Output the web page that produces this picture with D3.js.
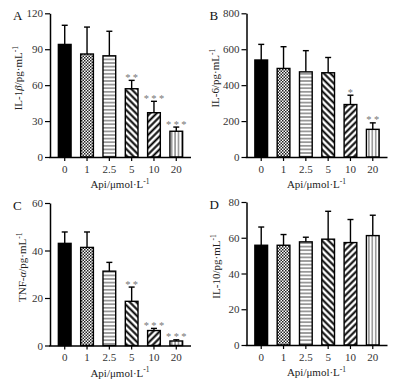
<!DOCTYPE html>
<html lang="zh">
<head>
  <meta charset="utf-8" />
  <style>
    body { margin: 0; background: #fff; }
    svg { display: block; font-family: "Liberation Serif", "Times New Roman", serif; }
  </style>
</head>
<body>
<div id="container"></div>
<script src="https://cdn.jsdelivr.net/npm/d3@7/dist/d3.min.js"></script>
<script>

const width = 396;
const height = 385;

// concentrations of Api (µmol/L)
const doses = ['0', '1', '2.5', '5', '10', '20'];

// IL-1β
const il1bMean = [94, 86, 84.5, 57, 37, 21.5];
const il1bSd = [16, 22.5, 20.5, 7, 9.5, 3.5];
const il1bSig = ['', '', '', '**', '***', '***'];

// IL-6
const il6Mean = [540, 493, 474, 469, 292, 154];
const il6Sd = [87, 121, 118, 85, 52, 36];
const il6Sig = ['', '', '', '', '*', '**'];

// TNF-α
const tnfMean = [43, 41.3, 31.3, 18.6, 6.3, 1.9];
const tnfSd = [4.8, 6.5, 3.7, 6, 0.9, 0.5];
const tnfSig = ['', '', '', '**', '***', '***'];

// IL-10
const il10Mean = [55.8, 55.8, 57.7, 59.2, 57.3, 61.2];
const il10Sd = [10.2, 6, 2.6, 15.6, 12.9, 11.4];
const il10Sig = ['', '', '', '', '', ''];

const yTicksA = [0, 30, 60, 90, 120];
const yTicksB = [0, 200, 400, 600, 800];
const yTicksC = [0, 20, 40, 60];
const yTicksD = [0, 20, 40, 60, 80];

const panels = [
  { letter: 'A', name: 'IL-1', greek: 'β', mean: il1bMean, sd: il1bSd, sig: il1bSig, ticks: yTicksA, x0: 50, top: 13.3, bottom: 157, titleX: 22 },
  { letter: 'B', name: 'IL-6', greek: '', mean: il6Mean, sd: il6Sd, sig: il6Sig, ticks: yTicksB, x0: 246.5, top: 13.3, bottom: 157, titleX: 219 },
  { letter: 'C', name: 'TNF-', greek: 'α', mean: tnfMean, sd: tnfSd, sig: tnfSig, ticks: yTicksC, x0: 50, top: 203, bottom: 345.5, titleX: 26 },
  { letter: 'D', name: 'IL-10', greek: '', mean: il10Mean, sd: il10Sd, sig: il10Sig, ticks: yTicksD, x0: 246.5, top: 202, bottom: 345, titleX: 220 }
];

const svg = d3.select('#container')
  .append('svg')
  .attr('width', width)
  .attr('height', height);

// fill patterns, one per dose
const defs = svg.append('defs');

const p1 = defs.append('pattern').attr('id', 'p1')
  .attr('patternUnits', 'userSpaceOnUse').attr('width', 3).attr('height', 3);
p1.append('rect').attr('width', 3).attr('height', 3).attr('fill', '#fff');
p1.append('rect').attr('width', 1.5).attr('height', 1.5).attr('fill', '#222');
p1.append('rect').attr('x', 1.5).attr('y', 1.5).attr('width', 1.5).attr('height', 1.5).attr('fill', '#222');

const p2 = defs.append('pattern').attr('id', 'p2')
  .attr('patternUnits', 'userSpaceOnUse').attr('width', 4).attr('height', 3.6);
p2.append('rect').attr('width', 4).attr('height', 3.6).attr('fill', '#fff');
p2.append('line').attr('x1', 0).attr('x2', 4).attr('y1', 1.8).attr('y2', 1.8)
  .attr('stroke', '#555').attr('stroke-width', 1.1);

function stripes(id, angle) {
  const p = defs.append('pattern').attr('id', id)
    .attr('patternUnits', 'userSpaceOnUse').attr('width', 4.6).attr('height', 4.6)
    .attr('patternTransform', `rotate(${angle})`);
  p.append('rect').attr('width', 4.6).attr('height', 4.6).attr('fill', '#fff');
  p.append('line').attr('x1', 2.3).attr('x2', 2.3).attr('y1', 0).attr('y2', 4.6)
    .attr('stroke', '#000').attr('stroke-width', 2);
}
stripes('p3', -45);
stripes('p4', 45);

const p5 = defs.append('pattern').attr('id', 'p5')
  .attr('patternUnits', 'userSpaceOnUse').attr('width', 3.4).attr('height', 4);
p5.append('rect').attr('width', 3.4).attr('height', 4).attr('fill', '#fff');
p5.append('line').attr('x1', 1.7).attr('x2', 1.7).attr('y1', 0).attr('y2', 4)
  .attr('stroke', '#555').attr('stroke-width', 1);

const fills = ['#000', 'url(#p1)', 'url(#p2)', 'url(#p3)', 'url(#p4)', 'url(#p5)'];

panels.forEach(p => {
  const g = svg.append('g');
  const data = doses.map((d, i) => ({ dose: d, mean: p.mean[i], sd: p.sd[i], sig: p.sig[i], i }));

  const x = d3.scaleBand()
    .domain(doses)
    .range([p.x0, p.x0 + 141])
    .paddingInner(0.43)
    .paddingOuter(0.375);

  const y = d3.scaleLinear()
    .domain([0, d3.max(p.ticks)])
    .range([p.bottom, p.top]);

  // bars
  g.selectAll('rect.bar')
    .data(data)
    .enter()
    .append('rect')
    .attr('class', 'bar')
    .attr('x', d => x(d.dose))
    .attr('y', d => y(d.mean))
    .attr('width', x.bandwidth())
    .attr('height', d => y(0) - y(d.mean))
    .attr('fill', d => fills[d.i])
    .attr('stroke', '#000')
    .attr('stroke-width', 1.4);

  // error bars (upper only)
  const cx = d => x(d.dose) + x.bandwidth() / 2;
  g.selectAll('line.err')
    .data(data)
    .enter()
    .append('line')
    .attr('x1', cx).attr('x2', cx)
    .attr('y1', d => y(d.mean)).attr('y2', d => y(d.mean + d.sd))
    .attr('stroke', '#000').attr('stroke-width', 1.4);
  g.selectAll('line.cap')
    .data(data)
    .enter()
    .append('line')
    .attr('x1', d => cx(d) - 3).attr('x2', d => cx(d) + 3)
    .attr('y1', d => y(d.mean + d.sd)).attr('y2', d => y(d.mean + d.sd))
    .attr('stroke', '#000').attr('stroke-width', 1.4);

  // significance stars
  g.selectAll('text.sig')
    .data(data.filter(d => d.sig))
    .enter()
    .append('text')
    .attr('x', d => cx(d) + 1.2)
    .attr('y', d => y(d.mean + d.sd) + 0.5)
    .attr('text-anchor', 'middle')
    .attr('font-size', 10.5)
    .attr('letter-spacing', 2.4)
    .attr('fill', '#777')
    .text(d => d.sig);

  // y axis
  const yAxis = g.append('g')
    .attr('transform', `translate(${p.x0},0)`)
    .call(d3.axisLeft(y).tickValues(p.ticks).tickSize(5).tickSizeOuter(0).tickPadding(2));
  yAxis.select('.domain').attr('stroke-width', 1.5);
  yAxis.selectAll('.tick line').attr('stroke-width', 1.2);
  yAxis.selectAll('.tick text')
    .attr('font-family', '"Liberation Serif", serif')
    .attr('font-size', 11)
    .attr('fill', '#333');

  // x axis
  const xAxis = g.append('g')
    .attr('transform', `translate(0,${p.bottom})`)
    .call(d3.axisBottom(x).tickSize(4).tickSizeOuter(0).tickPadding(4));
  xAxis.select('.domain').attr('stroke-width', 1.5)
    .attr('d', `M${p.x0 - 0.75},0.5H${p.x0 + 141}`);
  xAxis.selectAll('.tick line').attr('stroke-width', 1.2);
  xAxis.selectAll('.tick text')
    .attr('font-family', '"Liberation Serif", serif')
    .attr('font-size', 11)
    .attr('fill', '#333');

  // x axis title
  const xt = g.append('text')
    .attr('x', p.x0 + 70)
    .attr('y', p.bottom + 31)
    .attr('text-anchor', 'middle')
    .attr('font-size', 11)
    .attr('fill', '#222');
  xt.append('tspan').text('Api/μmol·L');
  xt.append('tspan').attr('font-size', 7.5).attr('dy', -4.5).text('-1');

  // y axis title
  const mid = (p.top + p.bottom) / 2 - 7;
  const yt = g.append('text')
    .attr('transform', `translate(${p.titleX},${mid}) rotate(-90)`)
    .attr('text-anchor', 'middle')
    .attr('font-size', 11)
    .attr('fill', '#222');
  yt.append('tspan').text(p.name);
  if (p.greek) yt.append('tspan').attr('font-style', 'italic').text(p.greek);
  yt.append('tspan').text('/pg·mL');
  yt.append('tspan').attr('font-size', 7.5).attr('dy', -4.5).text('-1');

  // panel letter
  g.append('text')
    .attr('x', p.x0 - 37)
    .attr('y', p.top + 6.5)
    .attr('font-size', 13)
    .attr('fill', '#111')
    .text(p.letter);
});

</script>
</body>
</html>
